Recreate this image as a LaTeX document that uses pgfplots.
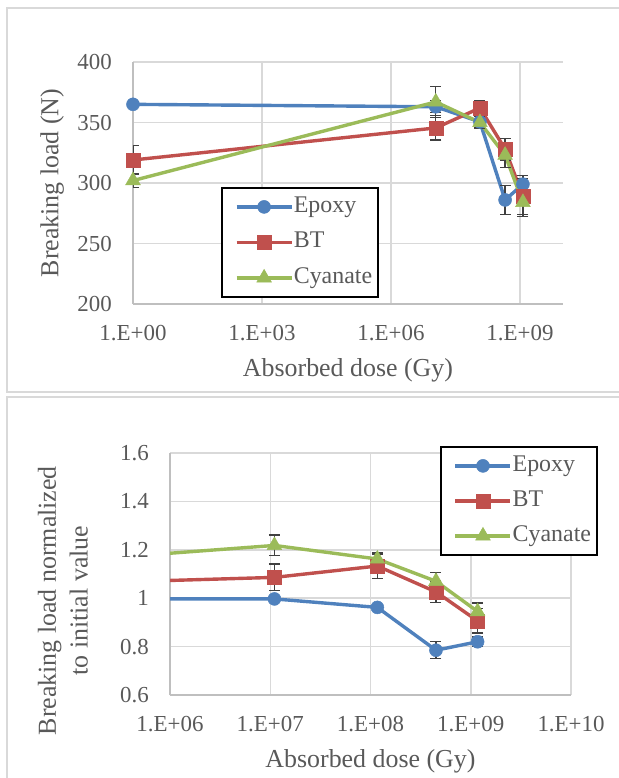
\documentclass[border=0pt]{standalone}
\usepackage{fontspec}
\setmainfont{Liberation Serif}
\usepackage{pgfplots}
\usepackage{pgfplotstable}
\pgfplotsset{compat=1.18}

\definecolor{cEpoxy}{HTML}{4F81BD}
\definecolor{cBT}{HTML}{C0504D}
\definecolor{cCy}{HTML}{9BBB59}
\definecolor{gridgray}{HTML}{D9D9D9}
\definecolor{axisgray}{HTML}{BFBFBF}
\definecolor{textgray}{HTML}{595959}
\definecolor{errgray}{HTML}{404040}

% absolute breaking load (N)
\pgfplotstableread{
x      y     e
1      365   2
1.1e7  363   5
1.17e8 350.5 5
4.5e8  286   12
1.17e9 299   7
}\epoxyA
\pgfplotstableread{
x      y     e
1      319   12
1.1e7  345.5 10
1.17e8 362   6
4.5e8  328   9
1.17e9 289   15
}\btA
\pgfplotstableread{
x      y     e
1      302   6
1.1e7  367   13
1.17e8 350   5
4.5e8  323   10
1.17e9 284   12
}\cyA

% normalized to initial value
\pgfplotstableread{
x      y     e
1      1.000 0
1.1e7  0.997 0.010
1.17e8 0.962 0.012
4.5e8  0.785 0.035
1.17e9 0.820 0.020
}\epoxyB
\pgfplotstableread{
x      y     e
1      1.000 0
1.1e7  1.086 0.055
1.17e8 1.133 0.050
4.5e8  1.026 0.045
1.17e9 0.906 0.050
}\btB
\pgfplotstableread{
x      y     e
1      1.000 0
1.1e7  1.218 0.043
1.17e8 1.162 0.025
4.5e8  1.070 0.036
1.17e9 0.945 0.035
}\cyB

\pgfplotsset{
  panel/.style={
    scale only axis, anchor=south west,
    height=242bp,
    axis lines*=left,
    axis line style={draw=axisgray, line width=1.5bp, -},
    grid=major, major grid style={draw=gridgray, line width=1.5bp},
    major tick length=0pt, minor tick length=0pt,
    tick label style={font=\fontsize{23}{23}\selectfont, text=textgray},
    /pgf/number format/assume math mode=true,
    xticklabel style={anchor=north, inner sep=0pt, yshift=-21bp},
    yticklabel style={anchor=east, inner sep=0pt, xshift=-21bp},
    xlabel={Absorbed dose (Gy)},
    xlabel style={at={(rel axis cs:0.5,0)}, anchor=center, yshift=-66bp,
      font=\fontsize{26}{26}\selectfont, text=textgray},
    ylabel style={anchor=center, font=\fontsize{26}{32}\selectfont, text=textgray, align=center},
    legend cell align=left,
    legend style={anchor=north west, draw=black, line width=1.8bp, fill=white,
      font=\fontsize{24}{24}\selectfont, text=textgray,
      inner xsep=6bp, inner ysep=8.5bp, row sep=14.5bp, column sep=0.5bp,
      nodes={inner sep=0pt, text height=16bp, text depth=5bp}},
    legend image code/.code={
      \path (0bp,0bp) (62bp,0bp);
      \draw[mark repeat=2,mark phase=2] plot coordinates {(7bp,0bp) (34.5bp,0bp) (62bp,0bp)};
    },
  },
  errs/.style={
    error bars/.cd, y dir=both, y explicit,
    error bar style={draw=errgray, line width=1.2bp},
    error mark options={rotate=90, draw=errgray, line width=1.2bp, mark size=5.5bp},
  },
  sEp/.style={color=cEpoxy, line width=3.4bp, mark=*, mark size=6.5bp,
    mark options={solid, fill=cEpoxy, draw=cEpoxy, line width=0.5bp}},
  sBT/.style={color=cBT, line width=3.4bp, mark=square*, mark size=7bp,
    mark options={solid, fill=cBT, draw=cBT, line width=0.5bp}},
  sCy/.style={color=cCy, line width=3.4bp, mark=triangle*, mark size=8.5bp,
    mark options={solid, fill=cCy, draw=cCy, line width=0.5bp}},
}

\begin{document}
\begin{tikzpicture}
\useasboundingbox (0,0) rectangle (619bp,778bp);
\draw[gridgray, line width=1.5bp] (7bp,386bp) rectangle (640bp,770bp);
\draw[gridgray, line width=1.5bp] (7bp,-20bp) rectangle (640bp,381bp);

\begin{axis}[xmode=log, panel,
  at={(133bp,474bp)}, width=430bp,
  xmin=1, xmax=1e10, ymin=200, ymax=400,
  xtick={1,1e3,1e6,1e9},
  xticklabels={1.E+00,1.E+03,1.E+06,1.E+09},
  ytick={200,250,300,350,400},
  ylabel={Breaking load (N)},
  ylabel style={at={(rel axis cs:-0.188,0.5)}},
  legend style={at={(rel axis cs:0.2047,0.4835)}},
]
\addplot[sEp, errs] table[x=x, y=y, y error=e] {\epoxyA};
\addplot[sBT, errs] table[x=x, y=y, y error=e] {\btA};
\addplot[sCy, errs] table[x=x, y=y, y error=e] {\cyA};
\legend{Epoxy, BT, Cyanate}
\end{axis}

\begin{axis}[xmode=log, panel,
  at={(170bp,83bp)}, width=401bp,
  xmin=1e6, xmax=1e10, ymin=0.6, ymax=1.6,
  xtick={1e6,1e7,1e8,1e9,1e10},
  xticklabels={1.E+06,1.E+07,1.E+08,1.E+09,1.E+10},
  ytick={0.6,0.8,1,1.2,1.4,1.6},
  ylabel={Breaking load normalized\\to initial value},
  ylabel style={at={(rel axis cs:-0.267,0.39)}},
  legend style={at={(rel axis cs:0.673,1.029)}, row sep=14bp},
]
\addplot[sEp, errs] table[x=x, y=y, y error=e] {\epoxyB};
\addplot[sBT, errs] table[x=x, y=y, y error=e] {\btB};
\addplot[sCy, errs] table[x=x, y=y, y error=e] {\cyB};
\legend{Epoxy, BT, Cyanate}
\end{axis}
\end{tikzpicture}
\end{document}
